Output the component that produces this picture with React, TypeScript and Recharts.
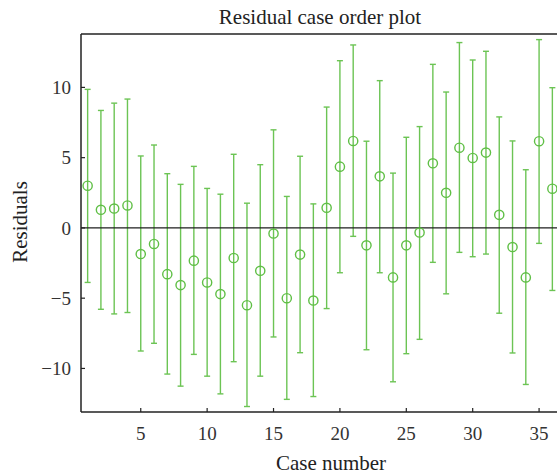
import React from 'react'
import {
  ComposedChart,
  Scatter,
  ErrorBar,
  XAxis,
  YAxis,
  ReferenceLine,
} from 'recharts'

// Case numbers and fitted residuals with their intervals
const cases = [
  1, 2, 3, 4, 5, 6, 7, 8, 9, 10, 11, 12, 13, 14, 15, 16, 17, 18,
  19, 20, 21, 22, 23, 24, 25, 26, 27, 28, 29, 30, 31, 32, 33, 34, 35, 36,
]

const residuals = [
  3.0, 1.29, 1.38, 1.6, -1.86, -1.14, -3.29, -4.07, -2.33, -3.88, -4.71, -2.14,
  -5.5, -3.05, -0.4, -5.0, -1.9, -5.17, 1.43, 4.36, 6.19, -1.24, 3.67, -3.52,
  -1.24, -0.33, 4.6, 2.5, 5.71, 4.98, 5.36, 0.93, -1.36, -3.52, 6.17, 2.79,
]

const upper = [
  9.86, 8.36, 8.88, 9.17, 5.12, 5.9, 3.86, 3.1, 4.38, 2.81, 2.4, 5.24,
  1.76, 4.5, 6.98, 2.24, 5.1, 1.71, 8.6, 11.9, 13.02, 6.17, 10.48, 3.9,
  6.45, 7.21, 11.64, 9.67, 13.19, 11.95, 12.57, 7.9, 6.19, 4.14, 13.4, 9.98,
]

const lower = [
  -3.88, -5.79, -6.12, -6.02, -8.76, -8.21, -10.4, -11.26, -9.0, -10.55, -11.81, -9.52,
  -12.71, -10.55, -7.76, -12.2, -8.88, -12.0, -5.74, -3.19, -0.6, -8.67, -3.19, -10.95,
  -8.95, -7.93, -2.45, -4.69, -1.74, -2.05, -1.86, -6.07, -8.9, -11.14, -1.1, -4.45,
]

const xTicks = [5, 10, 15, 20, 25, 30, 35]
const yTicks = [-10, -5, 0, 5, 10]

const GREEN = '#5fbf45'
const BAR_GREEN = '#6cc454'
const AXIS = '#222'
const FONT = '"Liberation Serif", "Times New Roman", serif'

const data = cases.map((c, i) => ({
  x: c,
  y: residuals[i],
  err: [residuals[i] - lower[i], upper[i] - residuals[i]],
}))

const OpenCircle = (props: any) => {
  const { cx, cy } = props
  if (cx == null || cy == null) return null
  return <circle cx={cx} cy={cy} r={4.6} fill="none" stroke={GREEN} strokeWidth={1.4} />
}

const tickStyle = { fill: '#333', fontSize: 19, fontFamily: FONT }

export default function App() {
  return (
    <div style={{ position: 'absolute', left: 0, top: 0, width: 557, height: 474, overflow: 'hidden', background: '#fff' }}>
      <ComposedChart
        width={600}
        height={474}
        data={data}
        margin={{ top: 30, right: 37, bottom: 22, left: 41 }}
      >
        <XAxis
          xAxisId="bottom"
          dataKey="x"
          type="number"
          domain={[0.5, 36.5]}
          ticks={xTicks}
          allowDataOverflow
          height={40}
          tickSize={-4}
          tickMargin={19}
          tick={tickStyle}
          axisLine={{ stroke: AXIS, strokeWidth: 1.5 }}
          tickLine={{ stroke: AXIS, strokeWidth: 1.2 }}
        />
        <XAxis
          xAxisId="top"
          orientation="top"
          dataKey="x"
          type="number"
          domain={[0.5, 36.5]}
          ticks={xTicks}
          allowDataOverflow
          height={4}
          tickSize={-4}
          tick={false}
          axisLine={{ stroke: AXIS, strokeWidth: 1.5 }}
          tickLine={{ stroke: AXIS, strokeWidth: 1.2 }}
        />
        <YAxis
          yAxisId="left"
          type="number"
          domain={[-13.1, 13.8]}
          ticks={yTicks}
          allowDataOverflow
          width={40}
          tickSize={-4}
          tickMargin={14}
          tick={tickStyle}
          tickFormatter={(v: number) => (v < 0 ? `\u2212${Math.abs(v)}` : `${v}`)}
          axisLine={{ stroke: AXIS, strokeWidth: 1.5 }}
          tickLine={{ stroke: AXIS, strokeWidth: 1.2 }}
        />
        <YAxis
          yAxisId="right"
          orientation="right"
          type="number"
          domain={[-13.1, 13.8]}
          ticks={yTicks}
          allowDataOverflow
          width={4}
          tickSize={-4}
          tick={false}
          axisLine={{ stroke: AXIS, strokeWidth: 1.5 }}
          tickLine={{ stroke: AXIS, strokeWidth: 1.2 }}
        />
        <Scatter
          xAxisId="bottom"
          yAxisId="left"
          dataKey="y"
          shape={<OpenCircle />}
          isAnimationActive={false}
        >
          <ErrorBar
            dataKey="err"
            direction="y"
            width={3}
            stroke={BAR_GREEN}
            strokeWidth={1.4}
            isAnimationActive={false}
          />
        </Scatter>
        {/* zero line sits over the error bars, as in the original */}
        <ReferenceLine xAxisId="bottom" yAxisId="left" y={0} stroke="#1e1e1e" strokeWidth={1.4} ifOverflow="extendDomain" />
      </ComposedChart>
      <svg
        width={557}
        height={474}
        style={{ position: 'absolute', left: 0, top: 0, pointerEvents: 'none' }}
      >
        <text x={320} y={24} textAnchor="middle" fontFamily={FONT} fontSize={21} fill="#222">
          Residual case order plot
        </text>
        <text x={331} y={470} textAnchor="middle" fontFamily={FONT} fontSize={21} fill="#222">
          Case number
        </text>
        <text
          x={0}
          y={0}
          transform="translate(27 222) rotate(-90)"
          textAnchor="middle"
          fontFamily={FONT}
          fontSize={21}
          fill="#222"
        >
          Residuals
        </text>
      </svg>
    </div>
  )
}
